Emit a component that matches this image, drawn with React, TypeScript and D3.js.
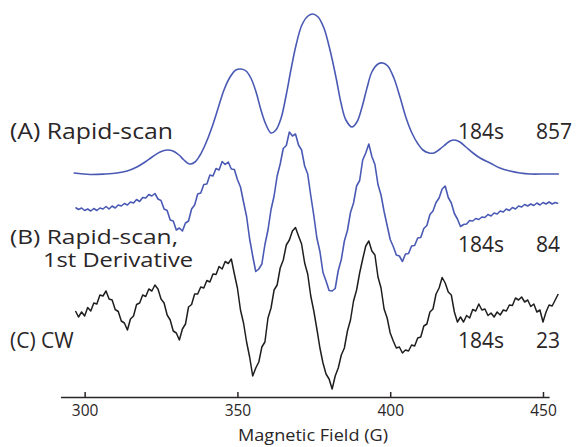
import React, { useEffect, useRef } from "react";
import * as d3 from "d3";

const W = 577;
const H = 447;

// Trace A (rapid-scan absorption): field (G) and intensity (a.u.)
const fieldA = [296.4, 301.8, 306.7, 310.6, 313.9, 317.1, 319.8, 322.1, 324.7, 327.1, 328.9, 330.9, 332.5, 334.3, 336.1, 337.8, 339.7, 341.7, 343.7, 345.6, 347.6, 349.5, 351.2, 352.8, 354.4, 356.1, 357.7, 359.4, 361.0, 362.6, 364.3, 365.9, 367.5, 369.2, 371.1, 373.1, 374.7, 376.4, 378.3, 380.3, 382.3, 383.9, 385.5, 387.5, 389.1, 390.7, 392.4, 394.0, 396.0, 397.6, 399.2, 401.2, 403.2, 405.1, 407.1, 409.1, 410.7, 412.7, 414.3, 416.3, 418.3, 419.6, 421.0, 422.8, 424.8, 427.1, 429.4, 432.7, 435.9, 439.2, 442.5, 445.8, 450.7, 455.2];
const ampA = [1, -0.5, 0, 1, 3, 7, 12, 17, 22, 24, 23, 19, 14, 10, 12, 19, 31, 47, 66, 84, 97, 104, 105, 103, 96, 82, 64, 49, 41, 44, 56, 78, 104, 129, 149, 158, 160, 157, 146, 124, 96, 71, 54, 47, 52, 66, 86, 102, 110, 111, 108, 96, 77, 57, 41, 30, 24, 21, 21, 25, 30, 33, 34, 32, 27, 21, 16, 11, 6, 3, 1, 0, 0, 0];

// Traces B and C (derivative spectra): field (G) sampling
const fieldBC = [297, 298, 299, 300, 301, 302, 303, 304, 305, 306, 307, 308, 309, 310, 311, 312, 313, 314, 315, 316, 317, 318, 319, 320, 321, 322, 323, 324, 325, 326, 327, 328, 329, 330, 331, 332, 333, 334, 335, 336, 337, 338, 339, 340, 341, 342, 343, 344, 345, 346, 347, 348, 349, 350, 351, 352, 353, 354, 355, 356, 357, 358, 359, 360, 361, 362, 363, 364, 365, 366, 367, 368, 369, 370, 371, 372, 373, 374, 375, 376, 377, 378, 379, 380, 381, 382, 383, 384, 385, 386, 387, 388, 389, 390, 391, 392, 393, 394, 395, 396, 397, 398, 399, 400, 401, 402, 403, 404, 405, 406, 407, 408, 409, 410, 411, 412, 413, 414, 415, 416, 417, 418, 419, 420, 421, 422, 423, 424, 425, 426, 427, 428, 429, 430, 431, 432, 433, 434, 435, 436, 437, 438, 439, 440, 441, 442, 443, 444, 445, 446, 447, 448, 449, 450, 451, 452, 453, 454, 455];
const ampB = [0.5, -1.5, 0, -2.5, -1, -3, -0.5, -2.5, 0, -1, 1.5, -1, 2, 0, 3, 2, 4.5, 3, 6, 5, 8.5, 6.5, 10.5, 10, 13.5, 12, 14.5, 9, 7.5, -1, -2.5, -12, -13, -22, -20, -23, -15, -13, -1, 3, 14, 15, 23.5, 24, 33, 32, 39.5, 38, 46.5, 43.5, 46, 39, 38.5, 28.5, 21, 6, -8.5, -31, -48, -63.5, -61, -56, -36.5, -22, -1.5, 12, 32, 44, 59.5, 62.5, 76, 72, 74, 63, 58, 42, 34, 12.5, -7.5, -30, -43.5, -64.5, -73, -82.5, -83, -80.5, -62.5, -51.5, -33, -22.5, -4.5, 5, 22, 27.5, 48, 55, 64, 51.5, 43.5, 23.5, 13, -3.5, -17.5, -31.5, -38.5, -47, -48, -53.5, -46, -45.5, -38, -37.5, -30, -29.5, -20.5, -17.5, -6.5, -3, 5.5, 10, 19, 22, 10.5, 5, -5.5, -11, -18.5, -16.5, -16, -12.5, -13, -10.5, -11.5, -9, -9.5, -6.5, -8, -5, -6, -3, -4, -1, -2.5, 0.5, -1, 2, 1, 3.5, 2, 4, 2.5, 5, 3, 5.5, 4, 6, 4, 5.5, 4.5];
const ampC = [1, -5, 0, -4, 4.5, 1, 9, 8, 17, 16, 21, 13, 12, 2.5, 0.5, -9, -11, -18, -7, -4, 7.5, 9, 17, 15.5, 23, 21, 27, 23, 13, 9, -3, -8, -19, -21, -28, -17, -12, 5, 7.5, 18, 18, 25, 24, 31.5, 30, 38, 37.5, 45.5, 43, 50.5, 48.5, 53, 38, 24, 2, -11, -30, -45, -64, -56, -50, -35, -30, -6, 4, 22, 27, 44, 52, 67, 72, 81, 84.5, 76, 68, 49, 38, 16, 1, -17, -36, -51, -62, -67, -77, -64, -56, -43, -36, -19, -8, 11, 22, 39, 53, 66, 71, 61, 57, 35, 24, 3, -6, -21, -29, -36, -35, -41, -38, -39, -33, -34, -26, -25, -14, -12, 0, 3, 18, 24, 34.5, 29, 20, 17, 0, -10, -5, -10, -3.5, -6, 2.5, 1, 8, 2, 3, -3.5, -1, -5, 0, -3, 2, 1, 7, 6.5, 14, 12, 15, 10, 12, 5.5, 8, 0, 2, -10, 0, 7, 6, 12, 18];

// Vertical stacking offsets of the three traces (a.u.)
const offsetA = 273;
const offsetB = 239;
const offsetC = 135;

const xTicks = [300, 350, 400, 450];
const xTitle = "Magnetic Field (G)";
const traceLabels = ["(A) Rapid-scan", "(B) Rapid-scan,", "1st Derivative", "(C) CW"];
const times = ["184s", "184s", "184s"];
const snr = ["857", "84", "23"];

const BLUE = "#4a5ab4";
const INK = "#2a2627";
const FONT = "'Open Sans', 'Noto Sans', sans-serif";

export default function App() {
  const axisRef = useRef<SVGGElement>(null);

  const x = d3.scaleLinear().domain([292.1, 452]).range([60.5, 549.1]);
  const y = d3.scaleLinear().domain([0, H]).range([H, 0]);
  const axisY = 397;

  const lineSmooth = d3
    .line<[number, number]>()
    .x((d) => x(d[0]))
    .y((d) => y(d[1]))
    .curve(d3.curveCatmullRom.alpha(0.5));
  const lineRaw = d3
    .line<[number, number]>()
    .x((d) => x(d[0]))
    .y((d) => y(d[1]));

  const dA = lineSmooth(fieldA.map((f, i) => [f, ampA[i] + offsetA] as [number, number]));
  const dB = lineRaw(fieldBC.map((f, i) => [f, ampB[i] + offsetB] as [number, number]));
  const dC = lineRaw(fieldBC.map((f, i) => [f, ampC[i] + offsetC] as [number, number]));

  useEffect(() => {
    if (!axisRef.current) return;
    const g = d3.select(axisRef.current);
    g.selectAll("*").remove();
    g.call(
      d3
        .axisBottom(x)
        .tickValues(xTicks)
        .tickSizeInner(-5)
        .tickSizeOuter(0)
        .tickPadding(8)
        .tickFormat((d) => String(d))
    );
    g.select(".domain").attr("stroke", INK).attr("stroke-width", 1.5);
    g.selectAll(".tick line").attr("stroke", INK).attr("stroke-width", 1.5);
    g.selectAll(".tick text")
      .attr("fill", INK)
      .attr("font-family", FONT)
      .attr("font-size", 15.5)
      .attr("dy", "0.71em");
  }, []);

  const labelStyle = { fontFamily: FONT, fontSize: 21, fill: INK } as const;
  const labelStyleB = { fontFamily: FONT, fontSize: 19.5, fill: INK } as const;

  return (
    <svg
      width={W}
      height={H}
      style={{ position: "absolute", left: 0, top: 0, background: "#fff" }}
    >
      <path d={dA ?? ""} fill="none" stroke={BLUE} strokeWidth={1.6} />
      <path d={dB ?? ""} fill="none" stroke={BLUE} strokeWidth={1.6} strokeLinejoin="round" />
      <path d={dC ?? ""} fill="none" stroke="#1e1e1e" strokeWidth={1.5} strokeLinejoin="round" />

      <g ref={axisRef} transform={`translate(0,${axisY})`} />
      <text x={313} y={441} textAnchor="middle" fontFamily={FONT} fontSize={17} fill={INK} textLength={150} lengthAdjust="spacingAndGlyphs">
        {xTitle}
      </text>

      <text x={10} y={139} {...labelStyle} textLength={163} lengthAdjust="spacingAndGlyphs">{traceLabels[0]}</text>
      <text x={10} y={244} {...labelStyleB} textLength={168} lengthAdjust="spacingAndGlyphs">{traceLabels[1]}</text>
      <text x={43} y={267} {...labelStyleB} textLength={150} lengthAdjust="spacingAndGlyphs">{traceLabels[2]}</text>
      <text x={10} y={348} {...labelStyle}>{traceLabels[3]}</text>

      <text x={458} y={139} {...labelStyle}>{times[0]}</text>
      <text x={536} y={139} {...labelStyle}>{snr[0]}</text>
      <text x={458} y={252} {...labelStyle}>{times[1]}</text>
      <text x={536} y={252} {...labelStyle}>{snr[1]}</text>
      <text x={458} y={348} {...labelStyle}>{times[2]}</text>
      <text x={536} y={348} {...labelStyle}>{snr[2]}</text>
    </svg>
  );
}
